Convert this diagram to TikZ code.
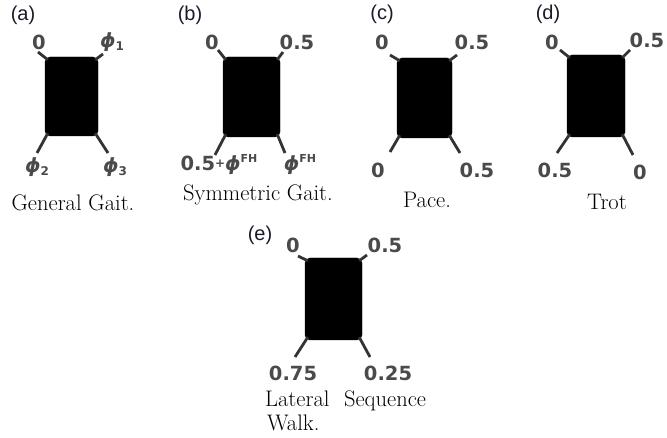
\documentclass[tikz,border=0pt]{standalone}
\usepackage{fontspec}
\newfontfamily\lblfont{DejaVu Sans}
\newfontfamily\tagfont{Liberation Sans}
\usetikzlibrary{calc}
\definecolor{legc}{HTML}{333333}
\definecolor{lblc}{HTML}{4A4A4A}
\definecolor{tagc}{HTML}{1A1A2A}
\newcommand\gphi{{\itshape ϕ}}
\newcommand\gsub[1]{\raisebox{-0.25ex}{\fontsize{12}{12}\selectfont #1}}
\newcommand\gsup[1]{\raisebox{0.75ex}{\fontsize{11}{11}\selectfont #1}}
\newcommand\gplus{\raisebox{0.3ex}{\fontsize{12}{12}\selectfont +}}
\begin{document}
\begin{tikzpicture}[x=1pt,y=-1pt,
  body/.style={fill=black, draw=black, rounded corners=5pt, inner sep=0pt},
  leg/.style={draw=legc, line width=2.8pt},
  lbl/.style={font=\lblfont\bfseries\fontsize{19.5}{20}\selectfont, text=lblc, inner sep=0pt},
  captext/.style={font=\fontsize{22.5}{25}\selectfont, inner sep=0pt},
  tag/.style={font=\tagfont\fontsize{20}{20}\selectfont, text=tagc, inner sep=0pt}]
\useasboundingbox (0,0) rectangle (667,438);

% ---------- (a)
\node[tag] (ta) at (23,15) {(a)};
\coordinate (atl) at (38,52); \coordinate (atr) at (103,54);
\coordinate (abl) at (37,153); \coordinate (abr) at (108,153);
\node[body, minimum width=53pt, minimum height=79pt] (ra) at (71.5,96.5) {};
\draw[leg] ($(ra.north west)+(3,3)$) -- (atl);
\draw[leg] ($(ra.north east)+(-3,3)$) -- (atr);
\draw[leg] ($(ra.south west)+(3,-3)$) -- (abl);
\draw[leg] ($(ra.south east)+(-3,-3)$) -- (abr);
\node[lbl] (la1) at (39,42) {0};
\node[lbl] (la2) at (112,42) {\gphi\gsub{1}};
\node[lbl] (la3) at (37,167) {\gphi\gsub{2}};
\node[lbl] (la4) at (115,167) {\gphi\gsub{3}};
\node[captext] (ca) at (73,203) {General Gait.};

% ---------- (b)
\node[tag] (tb) at (190,15) {(b)};
\coordinate (btl) at (218,50); \coordinate (btr) at (283,52);
\coordinate (bbl) at (215,155); \coordinate (bbr) at (285,153);
\node[body, minimum width=57pt, minimum height=80pt] (rb) at (251.5,97) {};
\draw[leg] ($(rb.north west)+(3,3)$) -- (btl);
\draw[leg] ($(rb.north east)+(-3,3)$) -- (btr);
\draw[leg] ($(rb.south west)+(3,-3)$) -- (bbl);
\draw[leg] ($(rb.south east)+(-3,-3)$) -- (bbr);
\node[lbl] (lb1) at (212,42) {0};
\node[lbl] (lb2) at (297,42) {0.5};
\node[lbl] (lb3) at (219,165) {0.5\gplus\gphi\gsup{FH}};
\node[lbl] (lb4) at (300,165) {\gphi\gsup{FH}};
\node[captext] (cb) at (258,195) {Symmetric Gait.};

% ---------- (c)
\node[tag] (tc) at (382,14) {(c)};
\coordinate (ctl) at (390,55); \coordinate (ctr) at (457,55);
\coordinate (cbl) at (390,152); \coordinate (cbr) at (460,153);
\node[body, minimum width=55pt, minimum height=80pt] (rc) at (424.5,98) {};
\draw[leg] ($(rc.north west)+(3,3)$) -- (ctl);
\draw[leg] ($(rc.north east)+(-3,3)$) -- (ctr);
\draw[leg] ($(rc.south west)+(3,-3)$) -- (cbl);
\draw[leg] ($(rc.south east)+(-3,-3)$) -- (cbr);
\node[lbl] (lc1) at (382,42) {0};
\node[lbl] (lc2) at (472,42) {0.5};
\node[lbl] (lc3) at (378,170) {0};
\node[lbl] (lc4) at (477,170) {0.5};
\node[captext] (cc) at (427,200) {Pace.};

% ---------- (d)
\node[tag] (td) at (548,14) {(d)};
\coordinate (dtl) at (560,50); \coordinate (dtr) at (630,50);
\coordinate (dbl) at (557,153); \coordinate (dbr) at (633,155);
\node[body, minimum width=58pt, minimum height=82pt] (rd) at (596,96) {};
\draw[leg] ($(rd.north west)+(3,3)$) -- (dtl);
\draw[leg] ($(rd.north east)+(-3,3)$) -- (dtr);
\draw[leg] ($(rd.south west)+(3,-3)$) -- (dbl);
\draw[leg] ($(rd.south east)+(-3,-3)$) -- (dbr);
\node[lbl] (ld1) at (552,42) {0};
\node[lbl] (ld2) at (647,40) {0.5};
\node[lbl] (ld3) at (555,170) {0.5};
\node[lbl] (ld4) at (640,172) {0};
\node[captext] (cd) at (607,202) {Trot};

% ---------- (e)
\node[tag] (te) at (260,235) {(e)};
\coordinate (etl) at (298,256); \coordinate (etr) at (367,255);
\coordinate (ebl) at (295,357); \coordinate (ebr) at (370,357);
\node[body, minimum width=57pt, minimum height=82pt] (re) at (333.5,299) {};
\draw[leg] ($(re.north west)+(3,3)$) -- (etl);
\draw[leg] ($(re.north east)+(-3,3)$) -- (etr);
\draw[leg] ($(re.south west)+(3,-3)$) -- (ebl);
\draw[leg] ($(re.south east)+(-3,-3)$) -- (ebr);
\node[lbl] (le1) at (293,245) {0};
\node[lbl] (le2) at (385,245) {0.5};
\node[lbl] (le3) at (293,373) {0.75};
\node[lbl] (le4) at (388,373) {0.25};
\node[captext, anchor=west] (ce1) at (265,401) {Lateral\hspace{0.65em}Sequence};
\node[captext, anchor=base west] (ce2) at (267,431) {Walk.};
\end{tikzpicture}
\end{document}
